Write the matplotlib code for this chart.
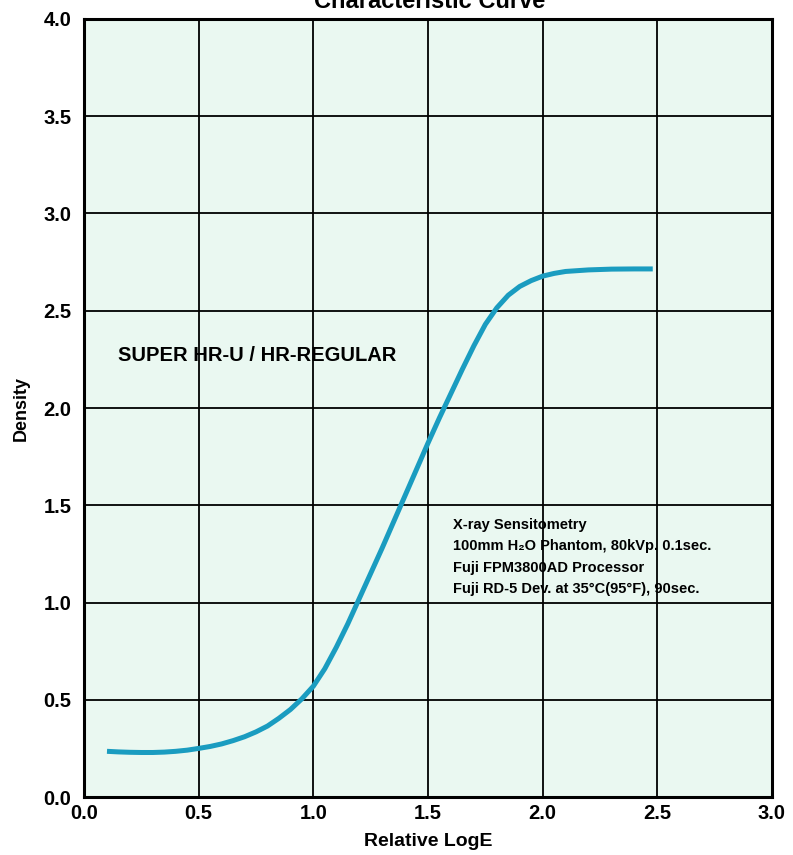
import matplotlib
matplotlib.use("Agg")
import matplotlib.pyplot as plt

# values
log_e = [0.1, 0.15, 0.2, 0.25, 0.3, 0.35, 0.4, 0.45, 0.5, 0.55, 0.6, 0.65,
         0.7, 0.75, 0.8, 0.85, 0.9, 0.95, 1.0, 1.05, 1.1, 1.15, 1.2, 1.25,
         1.3, 1.35, 1.4, 1.45, 1.5, 1.55, 1.6, 1.65, 1.7, 1.75, 1.8, 1.85,
         1.9, 1.95, 2.0, 2.05, 2.1, 2.2, 2.3, 2.4, 2.48]
density = [0.235, 0.232, 0.23, 0.229, 0.229, 0.231, 0.235, 0.241, 0.25,
           0.26, 0.273, 0.29, 0.31, 0.335, 0.365, 0.405, 0.45, 0.505, 0.57,
           0.66, 0.77, 0.89, 1.02, 1.15, 1.28, 1.415, 1.55, 1.685, 1.82,
           1.95, 2.075, 2.2, 2.32, 2.43, 2.515, 2.58, 2.625, 2.655, 2.678,
           2.692, 2.702, 2.71, 2.714, 2.715, 2.715]
x_ticks = [0.0, 0.5, 1.0, 1.5, 2.0, 2.5, 3.0]
y_ticks = [0.0, 0.5, 1.0, 1.5, 2.0, 2.5, 3.0, 3.5, 4.0]
film_label = "SUPER HR-U / HR-REGULAR"
note_lines = ["X-ray Sensitometry",
              "100mm H\u2082O Phantom, 80kVp. 0.1sec.",
              "Fuji FPM3800AD Processor",
              "Fuji RD-5 Dev. at 35\u00b0C(95\u00b0F), 90sec."]

plt.rcParams['font.family'] = ['Liberation Sans Narrow', 'Liberation Sans', 'DejaVu Sans']
bold_sans = ['Liberation Sans', 'DejaVu Sans']

fig = plt.figure(figsize=(7.93, 8.55), dpi=100)
ax = fig.add_axes([0.106, 0.0678, 0.8675, 0.91])
ax.set_facecolor('#eaf8f1')

ax.plot(log_e, density, color='#1a9cc0', linewidth=3.6,
        solid_capstyle='butt', solid_joinstyle='round', zorder=3)

ax.set_xlim(0, 3)
ax.set_ylim(0, 4)
ax.set_xticks(x_ticks)
ax.set_yticks(y_ticks)
ax.set_xticklabels(['%.1f' % v for v in x_ticks])
ax.set_yticklabels(['%.1f' % v for v in y_ticks])
ax.tick_params(length=0, labelsize=14.5)
ax.tick_params(axis='x', pad=5)
ax.tick_params(axis='y', pad=9)
for lab in ax.get_xticklabels() + ax.get_yticklabels():
    lab.set_fontweight('bold')
ax.grid(True, color='black', linewidth=1.3, zorder=1)
ax.set_axisbelow(True)
for sp in ax.spines.values():
    sp.set_linewidth(2.2)

ax.set_xlabel('Relative LogE', fontsize=14, fontweight='bold',
              family=bold_sans, labelpad=7)
ax.set_ylabel('Density', fontsize=13, fontweight='bold',
              family=bold_sans, labelpad=10)

ax.text(0.15, 2.27, film_label, fontsize=14.5, fontweight='bold',
        family=bold_sans, va='center')
for i, line in enumerate(note_lines):
    ax.text(1.61, 1.40 - i * 0.11, line, fontsize=10.5, fontweight='bold',
            family=bold_sans, va='center')

fig.text(0.542, 0.9905, 'Characteristic Curve', fontsize=17,
         fontweight='bold', family=bold_sans,
         ha='center', va='baseline')

fig.savefig('out.png', dpi=100)
